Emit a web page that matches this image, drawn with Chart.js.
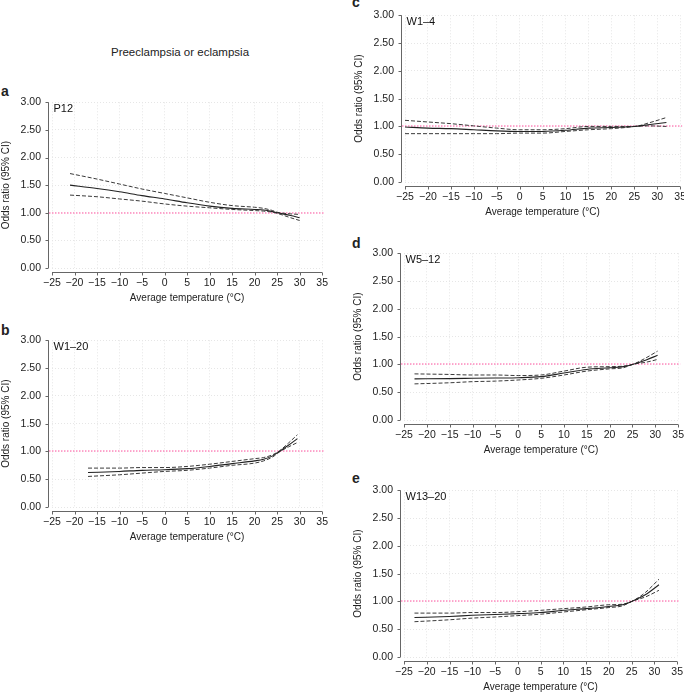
<!DOCTYPE html>
<html>
<head>
<meta charset="utf-8">
<script src="https://cdn.jsdelivr.net/npm/chart.js@4.4.1/dist/chart.umd.min.js"></script>
<style>
  html, body { margin: 0; padding: 0; background: #fff; overflow: hidden; }
  #fig { position: relative; width: 684px; height: 692px; overflow: hidden;
         font-family: 'Liberation Sans', Arial, sans-serif; color: #222; }
  #fig canvas { position: absolute; }
  .lbl { position: absolute; font-weight: bold; font-size: 14px; line-height: 14px; }
  #title { position: absolute; left: 0; top: 45px; width: 360px; text-align: center;
           font-size: 11.5px; line-height: 14px; }
</style>
</head>
<body>
<div id="fig">
  <div id="title">Preeclampsia or eclampsia</div>
  <div class="lbl" style="left:1px;top:84px">a</div>
  <div class="lbl" style="left:1px;top:323px">b</div>
  <div class="lbl" style="left:352px;top:-5px">c</div>
  <div class="lbl" style="left:352px;top:236px">d</div>
  <div class="lbl" style="left:352px;top:471px">e</div>
  <canvas id="pa"></canvas>
  <canvas id="pb"></canvas>
  <canvas id="pc"></canvas>
  <canvas id="pd"></canvas>
  <canvas id="pe"></canvas>
</div>
<script>
'use strict';

// axis ticks shared by all panels
var xTicks = [-25, -20, -15, -10, -5, 0, 5, 10, 15, 20, 25, 30, 35];
var yTicks = [0, 0.5, 1, 1.5, 2, 2.5, 3];
var refOR = 1;   // dotted pink reference line

// a  P12
var aTemp = [-21, -15, -10, -5, 0, 5, 10, 15, 20, 22, 24, 25, 28, 30];
var aOR   = [1.50, 1.44, 1.38, 1.31, 1.25, 1.18, 1.12, 1.08, 1.06, 1.05, 1.02, 1.00, 0.95, 0.91];
var aUp   = [1.71, 1.61, 1.52, 1.43, 1.35, 1.27, 1.19, 1.13, 1.10, 1.08, 1.04, 1.01, 0.98, 0.97];
var aLo   = [1.32, 1.29, 1.25, 1.21, 1.16, 1.12, 1.09, 1.06, 1.04, 1.03, 1.01, 0.99, 0.91, 0.86];

// b  W1-20
var bTemp = [-17, -10, -5, 0, 5, 10, 15, 20, 22, 24, 25.5, 27.5, 29.5];
var bOR   = [0.62, 0.64, 0.66, 0.67, 0.69, 0.73, 0.78, 0.83, 0.86, 0.92, 1.00, 1.11, 1.23];
var bUp   = [0.70, 0.70, 0.71, 0.71, 0.73, 0.77, 0.82, 0.87, 0.89, 0.94, 1.01, 1.15, 1.30];
var bLo   = [0.55, 0.58, 0.61, 0.64, 0.66, 0.70, 0.75, 0.79, 0.83, 0.90, 0.99, 1.08, 1.16];

// c  W1-4
var cTemp = [-25, -20, -15, -10, -5, 0, 5, 10, 15, 20, 23, 25, 28, 32];
var cOR   = [0.99, 0.97, 0.96, 0.94, 0.92, 0.91, 0.91, 0.93, 0.97, 0.98, 0.99, 1.00, 1.03, 1.07];
var cUp   = [1.11, 1.08, 1.05, 1.01, 0.97, 0.94, 0.94, 0.96, 1.00, 1.00, 1.00, 1.00, 1.06, 1.16];
var cLo   = [0.87, 0.87, 0.87, 0.87, 0.87, 0.88, 0.88, 0.91, 0.94, 0.96, 0.98, 1.00, 1.01, 1.00];

// d  W5-12
var dTemp = [-22.7, -15, -10, -5, 0, 5, 10, 15, 20, 23, 25, 28, 30.5];
var dOR   = [0.74, 0.745, 0.75, 0.755, 0.76, 0.78, 0.845, 0.91, 0.94, 0.96, 1.00, 1.08, 1.165];
var dUp   = [0.83, 0.82, 0.81, 0.81, 0.80, 0.81, 0.88, 0.95, 0.96, 0.97, 1.00, 1.12, 1.24];
var dLo   = [0.65, 0.67, 0.69, 0.70, 0.72, 0.75, 0.81, 0.88, 0.92, 0.94, 1.00, 1.04, 1.09];

// e  W13-20
var eTemp = [-22.7, -15, -10, -5, 0, 5, 10, 15, 20, 23, 25, 28, 31];
var eOR   = [0.71, 0.73, 0.75, 0.765, 0.78, 0.80, 0.84, 0.87, 0.91, 0.94, 1.00, 1.12, 1.30];
var eUp   = [0.79, 0.79, 0.80, 0.80, 0.815, 0.84, 0.87, 0.90, 0.94, 0.95, 1.00, 1.16, 1.40];
var eLo   = [0.635, 0.67, 0.70, 0.72, 0.745, 0.77, 0.81, 0.85, 0.89, 0.92, 1.00, 1.08, 1.20];

Chart.defaults.font.family = "'Liberation Sans', Arial, sans-serif";
Chart.defaults.font.size = 10;
Chart.defaults.color = '#222';

var Y_W = 52, X_H = 36, PAD_T = 12, PAD_R = 14;

function pts(xs, ys) {
  return xs.map(function (v, i) { return { x: v, y: ys[i] }; });
}

function fmtNum(v, dec) {
  var s = Math.abs(v).toFixed(dec);
  return v < 0 ? '\u2212' + s : s;
}

// R style axes: line offset from plot area, short outward ticks, panel tag,
// plus the pink OR = 1 line under the curves
var rAxes = {
  id: 'rAxes',
  beforeDatasetsDraw: function (chart) {
    var ctx = chart.ctx, a = chart.chartArea;
    var py = Math.round(chart.scales.y.getPixelForValue(refOR));
    ctx.save();
    ctx.strokeStyle = '#ff8cc0';
    ctx.lineWidth = 1.6;
    ctx.setLineDash([1.5, 1.5]);
    ctx.beginPath();
    ctx.moveTo(a.left - 3, py);
    ctx.lineTo(a.right + 2, py);
    ctx.stroke();
    ctx.restore();
  },
  afterDraw: function (chart, args, opts) {
    var ctx = chart.ctx, a = chart.chartArea;
    var xs = chart.scales.x, ys = chart.scales.y;
    ctx.save();
    ctx.strokeStyle = '#666';
    ctx.lineWidth = 1;
    ctx.beginPath();
    var ax = Math.round(a.left - 4) + 0.5;
    ctx.moveTo(ax, ys.getPixelForValue(yTicks[yTicks.length - 1]));
    ctx.lineTo(ax, ys.getPixelForValue(yTicks[0]));
    yTicks.forEach(function (v) {
      var p = Math.round(ys.getPixelForValue(v)) + 0.5;
      ctx.moveTo(ax, p);
      ctx.lineTo(ax - 3, p);
    });
    var ay = Math.round(a.bottom + 4) + 0.5;
    ctx.moveTo(xs.getPixelForValue(xTicks[0]), ay);
    ctx.lineTo(xs.getPixelForValue(xTicks[xTicks.length - 1]), ay);
    xTicks.forEach(function (v) {
      var p = Math.round(xs.getPixelForValue(v)) + 0.5;
      ctx.moveTo(p, ay);
      ctx.lineTo(p, ay + 3);
    });
    ctx.stroke();
    ctx.fillStyle = '#111';
    ctx.font = "11px 'Liberation Sans', Arial, sans-serif";
    ctx.textBaseline = 'alphabetic';
    ctx.fillText(opts.tag, a.left + 1.5, a.top + 10);
    ctx.restore();
  }
};

function makePanel(id, area, tag, temp, or, up, lo) {
  var cv = document.getElementById(id);
  var w = area.r - area.l + Y_W + PAD_R;
  var h = area.b - area.t + PAD_T + X_H;
  cv.width = w; cv.height = h;
  cv.style.left = (area.l - Y_W) + 'px';
  cv.style.top = (area.t - PAD_T) + 'px';
  cv.style.width = w + 'px';
  cv.style.height = h + 'px';

  var dashed = { borderColor: '#3a3a3a', borderWidth: 1, borderDash: [4, 2],
                 pointRadius: 0, cubicInterpolationMode: 'monotone' };

  return new Chart(cv, {
    type: 'line',
    data: {
      datasets: [
        { data: pts(temp, or), borderColor: '#222', borderWidth: 1.1,
          pointRadius: 0, cubicInterpolationMode: 'monotone' },
        Object.assign({ data: pts(temp, up) }, dashed),
        Object.assign({ data: pts(temp, lo) }, dashed)
      ]
    },
    options: {
      responsive: false,
      animation: false,
      devicePixelRatio: 1,
      layout: { padding: { left: 0, top: PAD_T, right: PAD_R, bottom: 0 } },
      plugins: { legend: { display: false }, tooltip: { enabled: false }, rAxes: { tag: tag } },
      scales: {
        x: {
          type: 'linear', min: -25, max: 35,
          afterBuildTicks: function (s) { s.ticks = xTicks.map(function (v) { return { value: v }; }); },
          afterFit: function (s) { s.height = X_H; },
          ticks: { padding: 9, maxRotation: 0, autoSkip: false, color: '#222', font: { size: 10.5 },
                   callback: function (v) { return fmtNum(v, 0); } },
          grid: { color: '#e6e6e6', lineWidth: 1, drawTicks: false },
          border: { display: false, dash: [1, 2] },
          title: { display: true, text: 'Average temperature (\u00b0C)', padding: 0, color: '#222' }
        },
        y: {
          type: 'linear', min: 0, max: 3,
          afterBuildTicks: function (s) { s.ticks = yTicks.map(function (v) { return { value: v }; }); },
          afterFit: function (s) { s.width = Y_W; },
          ticks: { padding: 11, autoSkip: false, color: '#222', font: { size: 10.5 },
                   callback: function (v) { return fmtNum(v, 2); } },
          grid: { color: '#e6e6e6', lineWidth: 1, drawTicks: false },
          border: { display: false, dash: [1, 2] },
          title: { display: true, text: 'Odds ratio (95% CI)', padding: 0, color: '#222' }
        }
      }
    },
    plugins: [rAxes]
  });
}

makePanel('pa', { l: 52, r: 323, t: 97, b: 268 }, 'P12', aTemp, aOR, aUp, aLo);
makePanel('pb', { l: 52, r: 323, t: 335, b: 507 }, 'W1\u201320', bTemp, bOR, bUp, bLo);
makePanel('pc', { l: 405, r: 681, t: 10, b: 182 }, 'W1\u20134', cTemp, cOR, cUp, cLo);
makePanel('pd', { l: 404, r: 679, t: 248, b: 420 }, 'W5\u201312', dTemp, dOR, dUp, dLo);
makePanel('pe', { l: 404, r: 678, t: 485, b: 657 }, 'W13\u201320', eTemp, eOR, eUp, eLo);
</script>
</body>
</html>
